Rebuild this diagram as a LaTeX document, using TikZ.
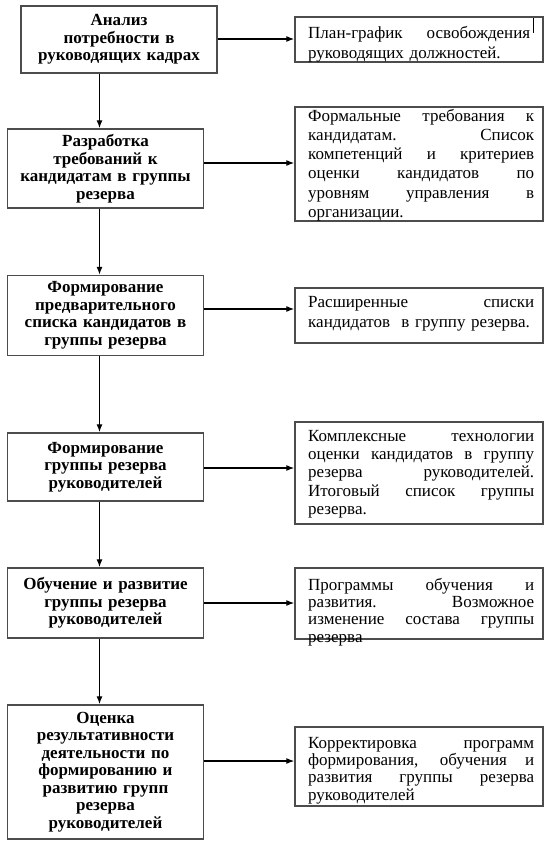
\documentclass[tikz,border=0pt]{standalone}
\usepackage{fontspec}
\setmainfont{Liberation Serif}
\usetikzlibrary{arrows.meta}
\newcommand{\jl}[2][226pt]{\leavevmode\hbox to #1{\spaceskip=.25em plus 1fil\xspaceskip=.25em plus 1fil\relax #2}\\}
\begin{document}
\begin{tikzpicture}[x=1pt,y=-1pt,
  lbox/.style={draw=black!70,line width=1.4pt,minimum width=196pt,inner sep=0pt,
    text width=192pt,align=center,font=\bfseries\fontsize{17}{17.5}\selectfont},
  rbox/.style={draw=black!70,line width=1.4pt,minimum width=248pt,inner sep=0pt},
  rtext/.style={anchor=north west,inner sep=0pt,text width=226pt,align=left},
  ls/.style={font=\fontsize{17}{#1}\selectfont},
  arr/.style={draw=black,line width=1.2pt,-{Latex[length=8pt,width=6pt]}}]
\useasboundingbox[fill=white] (0,0) rectangle (550,847);
% left boxes
\node[lbox,minimum height=67pt] (b1) at (119,39.5) {Анализ\\потребности в\\руководящих кадрах};
\node[lbox,minimum height=79pt] (b2) at (105.5,168.5) {Разработка\\требований к\\кандидатам в группы\\резерва};
\node[lbox,minimum height=80pt] (b3) at (105.5,315.5) {Формирование\\предварительного\\списка кандидатов в\\группы резерва};
\node[lbox,minimum height=68pt] (b4) at (105.5,467) {Формирование\\группы резерва\\руководителей};
\node[lbox,minimum height=70pt] (b5) at (105.5,603) {Обучение и развитие\\группы резерва\\руководителей};
\node[lbox,minimum height=134pt] (b6) at (105.5,772) {Оценка\\результативности\\деятельности по\\формированию и\\развитию групп\\резерва\\руководителей};
% right boxes
\node[rbox,minimum height=45pt] (r1) at (419,39.5) {};
\node[rbox,minimum height=114pt] (r2) at (419,164) {};
\node[rbox,minimum height=55pt] (r3) at (419,315.5) {};
\node[rbox,minimum height=102pt] (r4) at (419,473) {};
\node[rbox,minimum height=71pt] (r5) at (419,603.5) {};
\node[rbox,minimum height=79pt] (r6) at (419,766.5) {};
% right texts
\node[rtext,ls=20] (t1) at (308,26) {\jl[222pt]{План-график освобождения}руководящих должностей.};
\draw[line width=0.8pt] (533,18) -- (533,33);
\node[rtext,ls=19.2] (t2) at (308,109) {\jl{Формальные требования к}\jl{кандидатам. Список}\jl{компетенций и критериев}\jl{оценки кандидатов по}\jl{уровням управления в}организации.};
\node[rtext,ls=20] (t3) at (308,296) {\jl{Расширенные списки}кандидатов~ в группу резерва.};
\node[rtext,ls=18.3] (t4) at (308,430) {\jl{Комплексные технологии}\jl{оценки кандидатов в группу}\jl{резерва руководителей.}\jl{Итоговый список группы}резерва.};
\node[rtext,ls=17.3] (t5) at (308,578) {\jl{Программы обучения и}\jl{развития. Возможное}\jl{изменение состава группы}резерва};
\node[rtext,ls=17.3] (t6) at (308,737) {\jl{Корректировка программ}\jl{формирования, обучения и}\jl{развития группы резерва}руководителей};
% connectors
\coordinate (v) at (99.5,0);
\draw[arr] (b1.south -| v) -- (b2.north -| v);
\draw[arr] (b2.south -| v) -- (b3.north -| v);
\draw[arr] (b3.south -| v) -- (b4.north -| v);
\draw[arr] (b4.south -| v) -- (b5.north -| v);
\draw[arr] (b5.south -| v) -- (b6.north -| v);
\coordinate (h1) at (0,39);
\coordinate (h2) at (0,163);
\coordinate (h3) at (0,309);
\coordinate (h4) at (0,468);
\coordinate (h5) at (0,603);
\coordinate (h6) at (0,761);
\draw[arr] (b1.east |- h1) -- (r1.west |- h1);
\draw[arr] (b2.east |- h2) -- (r2.west |- h2);
\draw[arr] (b3.east |- h3) -- (r3.west |- h3);
\draw[arr] (b4.east |- h4) -- (r4.west |- h4);
\draw[arr] (b5.east |- h5) -- (r5.west |- h5);
\draw[arr] (b6.east |- h6) -- (r6.west |- h6);
\end{tikzpicture}
\end{document}
